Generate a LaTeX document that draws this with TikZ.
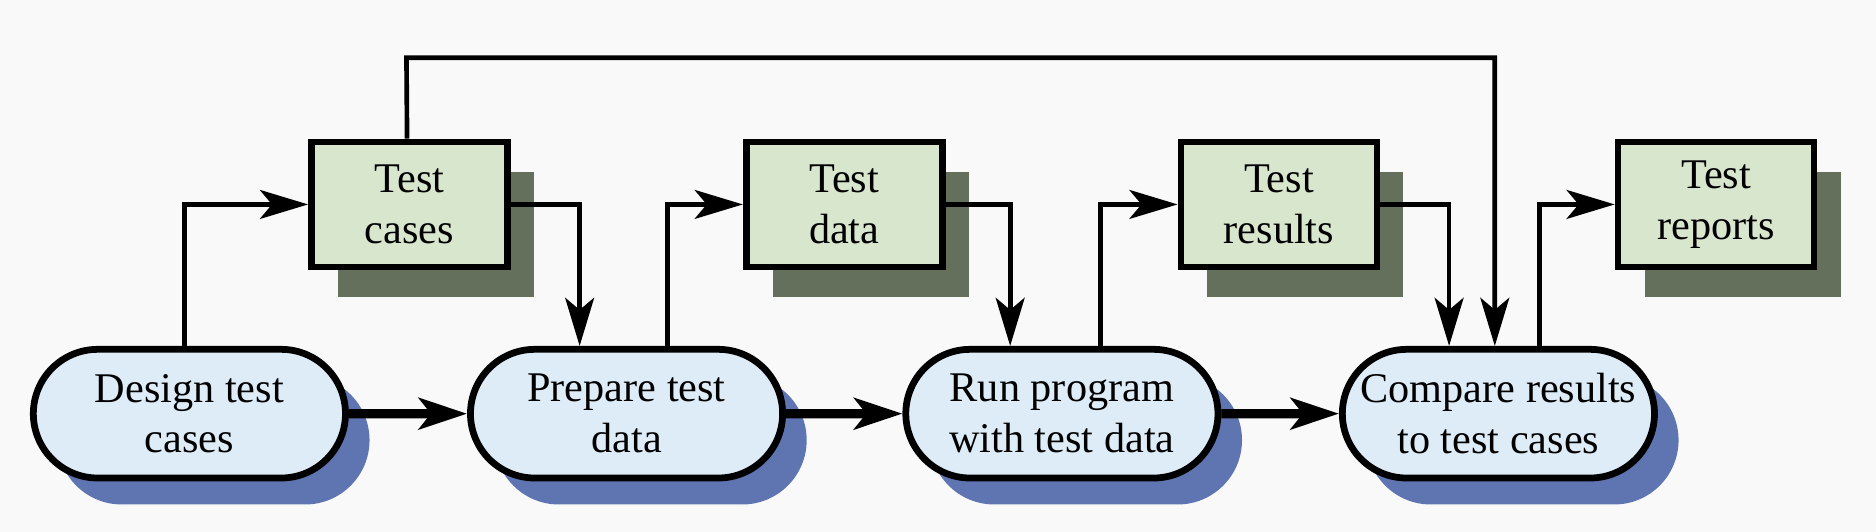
\documentclass[tikz,border=0pt]{standalone}
\usepackage{fontspec}
\setmainfont{Liberation Serif}
\usetikzlibrary{arrows.meta, shapes.misc, shadows}

\definecolor{actfill}{RGB}{222,236,248}
\definecolor{actshadow}{RGB}{95,117,178}
\definecolor{docfill}{RGB}{216,230,206}
\definecolor{docshadow}{RGB}{100,112,92}
\definecolor{bg}{RGB}{249,249,249}

\tikzset{
  activity/.style={rounded rectangle, draw, line width=1.6pt, fill=actfill,
    minimum width=2.83cm, minimum height=1.07cm, align=center,
    font=\fontsize{10}{12}\selectfont,
    drop shadow={shadow xshift=0.2cm, shadow yshift=-0.22cm, fill=actshadow, opacity=1}},
  doc/.style={rectangle, draw, line width=1.6pt, fill=docfill,
    minimum width=1.63cm, minimum height=1.04cm, align=center,
    font=\fontsize{10}{12}\selectfont,
    drop shadow={shadow xshift=0.22cm, shadow yshift=-0.25cm, fill=docshadow, opacity=1}},
  flow/.style={line width=1.1pt, -{Stealth[length=0.4cm, width=0.24cm, inset=0.1cm]}},
  stepflow/.style={line width=2.2pt, -{Stealth[length=0.4cm, width=0.26cm, inset=0.1cm]}}
}

\begin{document}
\begin{tikzpicture}
\fill[bg] (0,0) rectangle (15.6,4.42);
\useasboundingbox (0,0) rectangle (15.6,4.42);

\node[activity] (design)  at (1.575,0.98) {Design test\\cases};
\node[activity] (prepare) at (5.21,0.98)  {Prepare test\\data};
\node[activity] (run)     at (8.83,0.98)  {Run program\\with test data};
\node[activity] (compare) at (12.46,0.98) {Compare results\\to test cases};

\node[doc] (cases)   at (3.405,2.72) {Test\\cases};
\node[doc] (data)    at (7.02,2.72)  {Test\\data};
\node[doc] (results) at (10.635,2.72) {Test\\results};
\node[doc] (reports) at (14.27,2.72) {Test\\reports};

\coordinate (loop) at (3.38,3.94);

\draw[stepflow] (design) -- (prepare);
\draw[stepflow] (prepare) -- (run);
\draw[stepflow] (run) -- (compare);

\draw[flow] ([xshift=-0.4mm]design.north) |- (cases.west);
\draw[flow] (cases.east) -| ([xshift=-3.9mm]prepare.north);
\draw[flow] ([xshift=3.4mm]prepare.north) |- (data.west);
\draw[flow] (data.east) -| ([xshift=-4.3mm]run.north);
\draw[flow] ([xshift=3.2mm]run.north) |- (results.west);
\draw[flow] (results.east) -| ([xshift=-4.1mm]compare.north);
\draw[flow] ([xshift=3.4mm]compare.north) |- (reports.west);
\draw[flow] ([xshift=-0.2mm]cases.north) -- (loop) -| ([xshift=-0.3mm]compare.north);
\end{tikzpicture}
\end{document}
